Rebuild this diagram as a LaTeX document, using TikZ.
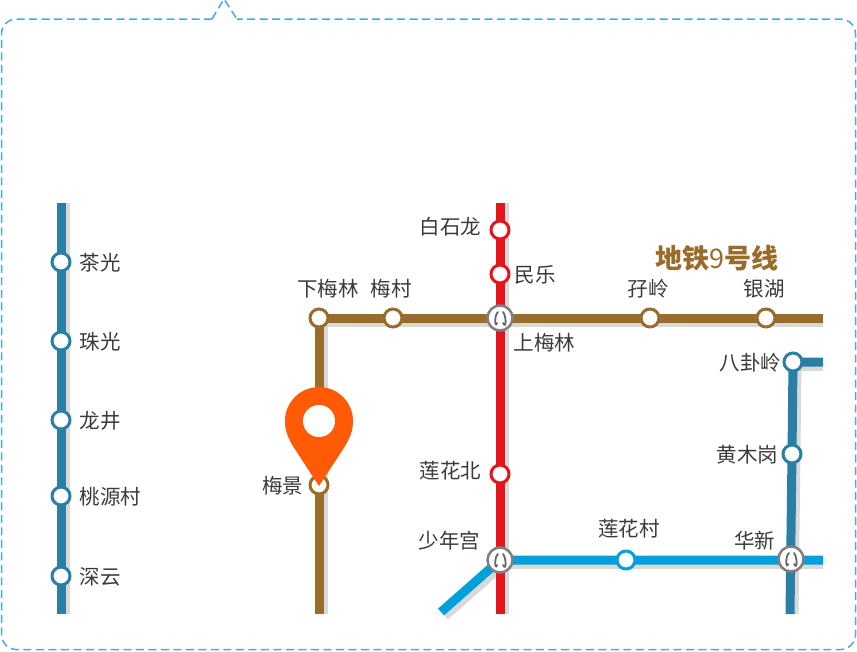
\documentclass[tikz,border=0pt]{standalone}
\usepackage{fontspec}
\setmainfont{Noto Sans CJK SC}
\usetikzlibrary{positioning,backgrounds}
\definecolor{lineteal}{HTML}{2A7FA5}
\definecolor{linebrown}{HTML}{9A6C2A}
\definecolor{linered}{HTML}{E8141C}
\definecolor{linecyan}{HTML}{00A0DC}
\definecolor{dashblue}{HTML}{4FA6E0}
\definecolor{pinorange}{HTML}{FF5A05}
\definecolor{shadowgray}{HTML}{D9D9D9}
\definecolor{labelgray}{HTML}{3A3A3A}

\begin{document}
\begin{tikzpicture}[x=1pt,y=-1pt]
  \tikzset{stn/.style={
      circle, draw=#1, fill=white, line width=3pt, minimum size=18pt, inner sep=0pt
    },
    xfer/.style={
      circle, draw=black!50, fill=white, line width=2.5pt, minimum size=25pt, inner sep=0pt,
      path picture={
        \draw[black!60, line width=1.8pt, line cap=round]
          ([shift={(-2,-6)}]path picture bounding box.center) .. controls +(-4,3) and +(-2,6) .. +(-1,11);
        \draw[black!60, line width=1.8pt, line cap=round]
          ([shift={(3,-6)}]path picture bounding box.center) .. controls +(3,3) and +(4,7) .. +(0,11);
      }
    },
    lbl/.style={font=\fontsize{20.5}{20.5}\selectfont, text=labelgray, inner sep=0pt, text height=18.5pt, text depth=2pt},
    metro/.style={line width=9pt, #1},
    metroshadow/.style={line width=9pt, shadowgray}
  }

  \useasboundingbox (0,0) rectangle (857,651);

  % left line
  \coordinate (T1) at (61,203);
  \coordinate (T2) at (61,614);
  \node[stn=lineteal] (chaguang) at (61,262) {};
  \node[stn=lineteal] (zhuguang) at (61,341) {};
  \node[stn=lineteal] (longjing) at (61,420) {};
  \node[stn=lineteal] (taoyuan) at (61,496) {};
  \node[stn=lineteal] (shenyun) at (61,576) {};

  % brown line
  \coordinate (B1) at (823,318);
  \coordinate (B2) at (319,614);
  \node[stn=linebrown] (xiameilin) at (319,318) {};
  \node[stn=linebrown] (meicun) at (393,318) {};
  \node[stn=linebrown] (maling) at (650,318) {};
  \node[stn=linebrown] (yinhu) at (766,318) {};
  \node[stn=linebrown] (meijing) at (319,485) {};

  % red line
  \coordinate (R1) at (500,203);
  \coordinate (R2) at (500,614);
  \node[stn=linered] (baishilong) at (500,230) {};
  \node[stn=linered] (minle) at (500,274) {};
  \node[stn=linered] (lianhuabei) at (500,474) {};
  \node[xfer] (shangmeilin) at (500,318) {};
  \node[xfer] (shaoniangong) at (500,560) {};

  % right side
  \coordinate (C1) at (823,560);
  \coordinate (C2) at (441,612);
  \coordinate (V1) at (823,362);
  \coordinate (V2) at (790,614);
  \node[stn=linecyan] (lianhuacun) at (626,560) {};
  \node[stn=lineteal] (bagualing) at (793,362) {};
  \node[stn=lineteal] (huangmugang) at (792,454) {};
  \node[xfer] (huaxin) at (791,559) {};

  \begin{scope}[on background layer]
    \draw[metroshadow] ([xshift=4pt]T1) -- ([xshift=4pt]T2);
    \draw[metroshadow] ([xshift=4pt]R1) -- ([xshift=4pt]R2);
    \draw[metroshadow] ([yshift=-4pt]xiameilin.center) -- ([yshift=-4pt]B1);
    \draw[metroshadow] ([xshift=4pt]xiameilin.center) -- ([xshift=4pt]B2);
    \draw[metroshadow] ([yshift=-4pt]shaoniangong.center) -- ([yshift=-4pt]C1);
    \draw[metroshadow] ([shift={(4,4)}]shaoniangong.center) -- ([shift={(4,4)}]C2);
    \draw[metroshadow] ([yshift=-4pt]bagualing.center) -- ([yshift=-4pt]V1);
    \draw[metroshadow] ([xshift=4pt]bagualing.center) -- ([xshift=4pt]V2);

    \draw[metro=lineteal] (T1) -- (T2);
    \draw[metro=linebrown] (B1) -- (xiameilin.center) -- (B2);
    \draw[metro=lineteal] (V1) -- (bagualing.center) -- (huangmugang.center) -- (V2);
    \draw[metro=linecyan] (C1) -- (shaoniangong.center) -- (C2);
    \draw[metro=linered] (R1) -- (R2);
  \end{scope}

  \node[lbl, right=8pt of chaguang] (l1) {茶光};
  \node[lbl, right=8pt of zhuguang] (l2) {珠光};
  \node[lbl, right=8pt of longjing] (l3) {龙井};
  \node[lbl, right=8pt of taoyuan] (l4) {桃源村};
  \node[lbl, right=8pt of shenyun] (l5) {深云};

  \node[lbl, left=8pt of baishilong, yshift=4pt] (l6) {白石龙};
  \node[lbl, right=4pt of minle] (l7) {民乐};
  \node[lbl, left=8pt of lianhuabei, yshift=4pt] (l8) {莲花北};
  \node[lbl, below right=15pt and 4pt of shangmeilin.south east, anchor=west] (l9) {上梅林};
  \node[lbl, above left=10pt and 10pt of shaoniangong.north west, anchor=east] (l10) {少年宫};

  \node[lbl, above=9pt of xiameilin, xshift=9pt] (l11) {下梅林};
  \node[lbl, above=9pt of meicun, xshift=-2pt] (l12) {梅村};
  \node[lbl, above=9pt of maling, xshift=-2pt] (l13) {孖岭};
  \node[lbl, above=9pt of yinhu, xshift=-2pt] (l14) {银湖};
  \node[lbl, left=5pt of meijing] (l15) {梅景};

  \node[lbl, left=1pt of bagualing] (l16) {八卦岭};
  \node[lbl, left=3pt of huangmugang] (l17) {黄木岗};
  \node[lbl, above=11pt of lianhuacun, xshift=3pt] (l18) {莲花村};
  \node[lbl, left=2pt of huaxin, yshift=19pt] (l19) {华新};

  \node[font=\fontsize{27}{27}\selectfont\bfseries, text=linebrown, inner sep=0pt] (title) at (717,258) {地铁{\mdseries 9}号线};

  % pin
  \fill[pinorange] (319,486) -- (293.5,447) .. controls (287.5,437) and (285,430) .. (285,421)
    arc[start angle=180, end angle=360, radius=34] .. controls (353,430) and (350.5,437) .. (344.5,447) -- cycle;
  \node[circle, fill=white, minimum size=32pt, inner sep=0pt] (pinhole) at (319,421) {};

  % outline
  \draw[dashblue, line width=1.5pt, dash pattern=on 8pt off 4.5pt, rounded corners=15pt]
    (212,19) -- (1.5,19) -- (1.5,649.5) -- (855.5,649.5) -- (855.5,19) -- (237,19);
  \draw[dashblue, line width=1.5pt, dash pattern=on 8pt off 4.5pt] (212,19) -- (224,-1) -- (237,19);
\end{tikzpicture}
\end{document}
